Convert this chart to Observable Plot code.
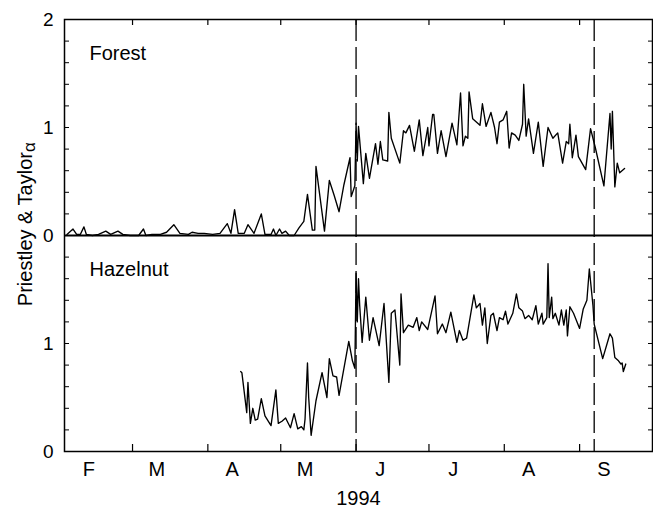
<!DOCTYPE html>
<html>
<head>
<meta charset="utf-8">
<script src="https://cdn.jsdelivr.net/npm/d3@7"></script>
<script src="https://cdn.jsdelivr.net/npm/@observablehq/plot@0.6"></script>
<style>
  html, body { margin: 0; padding: 0; background: #fff; }
  #chart svg { display: block; }
</style>
</head>
<body>
<div id="chart"></div>
<script>
// Day offsets are days after 1 Feb 1994; values are the Priestley-Taylor alpha.
const forestSeries = [
  [1,0.01],[3.5,0.06],[5,0.01],[6.5,0.01],[8,0.08],[9,0.01],[11.5,0.0],[14,0.01],[17,0.04],[19,0.01],
  [22,0.04],[24,0.01],[27,0.0],[30.5,0.0],[32.5,0.06],[33.5,0.0],[36,0.01],[39.5,0.01],[42,0.03],[45,0.1],
  [47.5,0.02],[51,0.01],[52.5,0.03],[55,0.02],[57.5,0.02],[61,0.01],[64,0.02],[67,0.11],[68.5,0.02],[70,0.24],
  [71.5,0.02],[74,0.02],[75.5,0.1],[78,0.02],[81,0.2],[82.5,0.01],[85,0.01],[86,0.06],[87,0.0],[88.5,0.06],
  [89.5,0.02],[91,0.04],[92.5,0.0],[94.5,0.0],[96.5,0.07],[98.5,0.13],[100,0.38],[102,0.05],[103,0.05],[103.5,0.64],
  [107,0.04],[109,0.51],[111,0.37],[113,0.22],[115,0.47],[117.5,0.72],[118,0.36],[119.5,0.46],[120,1.04],[120.5,0.69],
  [121,1.01],[123,0.48],[124,0.76],[125.5,0.53],[128,0.85],[129,0.66],[130,0.87],[131,0.70],[133,0.69],[133.5,1.14],
  [134.5,0.9],[138,0.67],[139.5,0.97],[140.5,0.95],[142,1.02],[144,0.78],[146,1.07],[147.5,0.74],[149.5,1.0],[150,0.83],
  [151.5,1.12],[152,1.12],[153.5,0.76],[155,0.97],[157,0.73],[159.5,1.04],[161.5,0.84],[163,1.32],[164,0.83],[165,0.92],
  [166,0.9],[166.5,1.33],[168,1.08],[171,1.02],[172,1.22],[173.5,1.01],[175.5,1.14],[177,1.0],[178,0.85],[179,1.05],
  [180.5,1.07],[182,1.15],[183,0.81],[184,0.95],[185.5,0.93],[187,0.88],[188.5,1.03],[189,1.4],[190,0.92],[191,1.08],
  [193,0.76],[195,1.05],[197,0.64],[199,1.0],[201,0.9],[203,0.95],[205,0.67],[206.5,0.87],[207.5,0.85],[208,1.03],
  [209,0.72],[210.5,0.93],[211.5,0.73],[214.5,0.61],[216.5,0.99],[218.5,0.81],[222,0.46],[224.5,1.13],[225,0.8],[225.5,1.15],
  [226.5,0.45],[227.5,0.67],[228.5,0.58],[230.5,0.62]
];
const hazelnutSeries = [
  [72.5,0.74],[73,0.73],[75,0.36],[75.5,0.64],[76.5,0.26],[77.5,0.4],[78.5,0.29],[79.5,0.3],[81,0.49],[82.5,0.33],
  [85,0.24],[87,0.57],[88,0.26],[89.5,0.28],[91,0.31],[93,0.22],[94.5,0.35],[96,0.21],[97.5,0.23],[98.5,0.2],
  [99,0.3],[100,0.82],[100.5,0.5],[101.5,0.15],[103.5,0.47],[106,0.73],[108,0.5],[109,0.86],[110.5,0.7],[112,0.69],
  [113,0.52],[117,1.02],[118.5,0.84],[119.5,0.77],[120,1.65],[120.5,1.2],[121,1.6],[121.5,1.35],[122.5,1.01],[124,1.43],
  [125.5,1.03],[127,1.24],[129.5,0.98],[131.5,1.37],[133.5,0.64],[134.5,1.28],[136,1.31],[138,0.8],[138.5,1.46],[139.5,1.1],
  [141.5,1.17],[143.5,1.15],[145,1.24],[146,1.12],[147,1.2],[149.5,1.13],[152.5,1.44],[153.5,1.09],[155.5,1.18],[157,1.1],
  [159,1.29],[161.5,1.01],[162.5,1.12],[164,1.03],[165.5,1.05],[168.5,1.45],[169.5,1.33],[171,1.37],[172,1.17],[173,1.33],
  [174,1.0],[175.5,1.26],[176.5,1.28],[178,1.12],[179,1.24],[180.5,1.22],[181.5,1.3],[182.5,1.18],[184.5,1.28],[186,1.46],
  [187,1.33],[188.5,1.3],[189.5,1.23],[191,1.26],[192.5,1.22],[194,1.35],[195,1.18],[196.5,1.28],[197,1.18],[198.5,1.24],
  [199,1.74],[199.5,1.24],[200.5,1.43],[201,1.23],[202,1.28],[203.5,1.17],[204.5,1.31],[205.5,1.17],[206.5,1.31],[207,1.07],
  [208,1.34],[209.5,1.28],[212,1.14],[213.5,1.32],[215,1.4],[216,1.69],[217.5,1.35],[218,1.18],[221.5,0.86],[224.5,1.09],
  [225.5,1.05],[226.5,0.87],[228,0.84],[229,0.81],[229.5,0.82],[230,0.74],[231,0.81]
];
const panelNames = ["Forest", "Hazelnut"];
const monthStarts = ["1994-03-01","1994-04-01","1994-05-01","1994-06-01","1994-07-01","1994-08-01","1994-09-01"];
const monthLabelDates = ["1994-02-11","1994-03-11","1994-04-11","1994-05-11","1994-06-11","1994-07-11","1994-08-11","1994-09-11"];
const monthLabels = ["F","M","A","M","J","J","A","S"];
const dashedDates = ["1994-06-01","1994-09-07"];
const yTickValues = [0, 1, 2, 3, 4];
const yTickLabels = ["0", "1", "0", "1", "2"];
const xDomain = ["1994-02-01", "1994-10-01"];
const yearLabel = "1994";
const yLabelMain = "Priestley & Taylor";
const yLabelSub = "\u03b1";

const base = Date.UTC(1994, 1, 1);
const toDate = d => new Date(base + d * 864e5);
const parse = s => new Date(s + "T00:00:00Z");
const PANEL_OFFSET = 2; // forest panel is stacked above the hazelnut panel

const forest = forestSeries.map(([d, v]) => ({date: toDate(d), value: v + PANEL_OFFSET}));
const hazel = hazelnutSeries.map(([d, v]) => ({date: toDate(d), value: v}));
const minorY = d3.range(0, 20.5, 1).map(i => i * 0.2);
const yTicks = yTickValues.map((v, i) => ({v, label: yTickLabels[i]}));
const months = monthLabelDates.map((s, i) => ({date: parse(s), label: monthLabels[i]}));

const W = 653, H = 515, ML = 64, MR = 1, MT = 19, MB = 64;
const PW = W - ML - MR, PH = H - MT - MB;
const font = "'Liberation Sans', Arial, Helvetica, sans-serif";

const chart = Plot.plot({
  width: W, height: H,
  marginLeft: ML, marginRight: MR, marginTop: MT, marginBottom: MB,
  style: {fontFamily: font, background: "white", color: "black"},
  x: {type: "utc", domain: xDomain.map(parse), axis: null},
  y: {domain: [0, 4], axis: null},
  marks: [
    // inward minor ticks, left and right
    Plot.ruleY(minorY, {y: d => d, insetRight: PW - 5, stroke: "black", strokeWidth: 1}),
    Plot.ruleY(minorY, {y: d => d, insetLeft: PW - 4, stroke: "black", strokeWidth: 1}),
    // inward month ticks, top and bottom
    Plot.ruleX(monthStarts.map(parse), {x: d => d, insetBottom: PH - 6, stroke: "black", strokeWidth: 1.2}),
    Plot.ruleX(monthStarts.map(parse), {x: d => d, insetTop: PH - 7, stroke: "black", strokeWidth: 1.2}),
    // dashed reference lines
    Plot.ruleX(dashedDates.map(parse), {x: d => d, stroke: "black", strokeWidth: 1.3, strokeDasharray: "22,6"}),
    // panel divider
    Plot.ruleY([PANEL_OFFSET], {stroke: "black", strokeWidth: 2}),
    Plot.frame({stroke: "black", strokeWidth: 1.5}),
    Plot.line(forest, {x: "date", y: "value", stroke: "black", strokeWidth: 1.35}),
    Plot.line(hazel, {x: "date", y: "value", stroke: "black", strokeWidth: 1.35}),
    // y tick labels
    Plot.text(yTicks, {y: "v", text: "label", frameAnchor: "left", dx: -11, textAnchor: "end", lineAnchor: "middle", fontSize: 19, fill: "black"}),
    // month labels
    Plot.text(months, {x: "date", text: "label", frameAnchor: "bottom", dy: 18, lineAnchor: "middle", fontSize: 20, fill: "black"}),
    // year label
    Plot.text([yearLabel], {text: d => d, frameAnchor: "bottom", dy: 47, lineAnchor: "middle", fontSize: 20, fill: "black"}),
    // panel names
    Plot.text([panelNames[0]], {text: d => d, frameAnchor: "top-left", dx: 25, dy: 34, textAnchor: "start", lineAnchor: "middle", fontSize: 20, fill: "black"}),
    Plot.text([panelNames[1]], {text: d => d, y: [PANEL_OFFSET], frameAnchor: "left", dx: 25, dy: 34, textAnchor: "start", lineAnchor: "middle", fontSize: 20, fill: "black"})
  ]
});

// y-axis title with subscript alpha
const svg = d3.select(chart);
const t = svg.append("text")
  .attr("transform", `translate(32,${MT + PH * 0.475}) rotate(-90)`)
  .attr("text-anchor", "middle")
  .attr("font-family", font)
  .attr("font-size", 20)
  .attr("fill", "black");
t.append("tspan").text(yLabelMain);
t.append("tspan").attr("font-size", 17).attr("dy", 3).text(yLabelSub);

document.getElementById("chart").appendChild(chart);
</script>
</body>
</html>
